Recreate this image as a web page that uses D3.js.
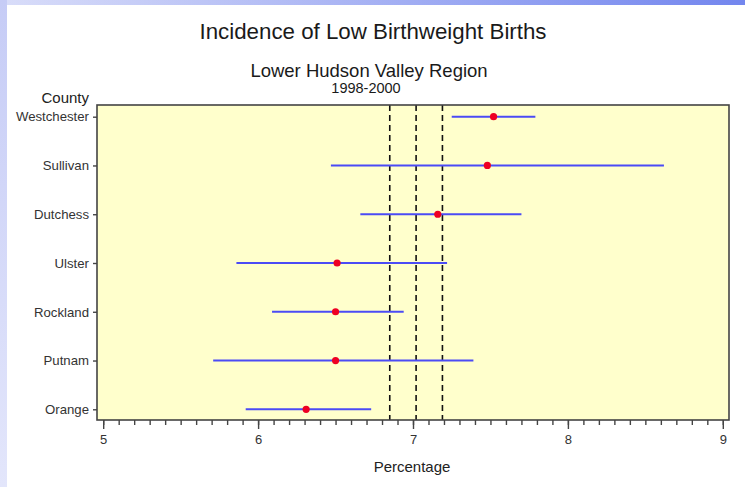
<!DOCTYPE html>
<html>
<head>
<meta charset="utf-8">
<script src="https://cdn.jsdelivr.net/npm/d3@7"></script>
<style>
  body { margin: 0; background: #fff; }
  svg { display: block; font-family: "Liberation Sans", Arial, sans-serif; }
</style>
</head>
<body>
<div id="chart"></div>
<script>
// counties, bottom to top
let counties = ['Orange', 'Putnam', 'Rockland', 'Ulster', 'Dutchess', 'Sullivan', 'Westchester'];
let rates = [6.31, 6.50, 6.50, 6.51, 7.16, 7.48, 7.52];
let lower = [5.92, 5.71, 6.09, 5.86, 6.66, 6.47, 7.25];
let upper = [6.73, 7.39, 6.94, 7.22, 7.70, 8.62, 7.79];
// region rate with its confidence limits
let regionLines = [6.85, 7.02, 7.19];
let majorTicks = [5, 6, 7, 8, 9];

let tempData = [];
for (let i = 0; i < counties.length; i++) {
    tempData.push({ county: counties[i], rate: rates[i], lo: lower[i], hi: upper[i] });
}

let totalWidth = 745;
let totalHeight = 487;
let frame = { left: 97, right: 729, top: 105, bottom: 420 };

let x = d3.scaleLinear().domain([4.96, 9.04]).range([frame.left, frame.right]);
let y = d3.scalePoint().domain(counties).range([409.3, 116.7]);

let svg = d3.select("#chart").append("svg")
    .attr("width", totalWidth)
    .attr("height", totalHeight);

// slide decoration: gradient strips on top and left
let defs = svg.append("defs");
let topGrad = defs.append("linearGradient").attr("id", "topGrad");
topGrad.append("stop").attr("offset", "0%").attr("stop-color", "#d9ddf9");
topGrad.append("stop").attr("offset", "100%").attr("stop-color", "#7386ee");
let leftGrad = defs.append("linearGradient").attr("id", "leftGrad")
    .attr("x1", 0).attr("y1", 0).attr("x2", 0).attr("y2", 1);
leftGrad.append("stop").attr("offset", "0%").attr("stop-color", "#c6ccf6");
leftGrad.append("stop").attr("offset", "100%").attr("stop-color", "#e3e6fb");

svg.append("rect").attr("x", 0).attr("y", 0).attr("width", totalWidth).attr("height", 5)
    .attr("fill", "url(#topGrad)");
svg.append("rect").attr("x", 0).attr("y", 0).attr("width", 7).attr("height", totalHeight)
    .attr("fill", "url(#leftGrad)");

// titles
svg.append("text")
    .attr("x", 373).attr("y", 39)
    .attr("text-anchor", "middle")
    .style("font-size", "22.3px")
    .style("fill", "#1a1a1a")
    .text("Incidence of Low Birthweight Births");
svg.append("text")
    .attr("x", 369).attr("y", 77)
    .attr("text-anchor", "middle")
    .style("font-size", "18.5px")
    .style("fill", "#1a1a1a")
    .text("Lower Hudson Valley Region");
svg.append("text")
    .attr("x", 366).attr("y", 93)
    .attr("text-anchor", "middle")
    .style("font-size", "14.5px")
    .style("fill", "#1a1a1a")
    .text("1998-2000");

// plot area
svg.append("rect")
    .attr("x", frame.left).attr("y", frame.top)
    .attr("width", frame.right - frame.left)
    .attr("height", frame.bottom - frame.top)
    .attr("fill", "#ffffcc");

// region reference lines
svg.selectAll(".ref")
    .data(regionLines)
    .enter().append("line")
    .attr("class", "ref")
    .attr("x1", d => x(d)).attr("x2", d => x(d))
    .attr("y1", frame.top).attr("y2", frame.bottom)
    .attr("stroke", "#111")
    .attr("stroke-width", 1.6)
    .attr("stroke-dasharray", "6,4");

// confidence intervals
svg.selectAll(".ci")
    .data(tempData)
    .enter().append("line")
    .attr("class", "ci")
    .attr("x1", d => x(d.lo)).attr("x2", d => x(d.hi))
    .attr("y1", d => y(d.county)).attr("y2", d => y(d.county))
    .attr("stroke", "#4b4bf5")
    .attr("stroke-width", 2);

// point estimates
svg.selectAll(".dot")
    .data(tempData)
    .enter().append("circle")
    .attr("class", "dot")
    .attr("cx", d => x(d.rate))
    .attr("cy", d => y(d.county))
    .attr("r", 3.6)
    .attr("fill", "#ee0022");

// frame border
svg.append("rect")
    .attr("x", frame.left).attr("y", frame.top)
    .attr("width", frame.right - frame.left)
    .attr("height", frame.bottom - frame.top)
    .attr("fill", "none")
    .attr("stroke", "#444")
    .attr("stroke-width", 1.6);

// x axis, minor then major ticks
let minorAxis = svg.append("g")
    .attr("transform", "translate(0," + frame.bottom + ")")
    .call(d3.axisBottom(x).tickValues(d3.range(50, 91).map(d => d / 10)).tickSize(5).tickFormat(""));
minorAxis.select(".domain").remove();

let xAxis = svg.append("g")
    .attr("transform", "translate(0," + frame.bottom + ")")
    .call(d3.axisBottom(x).tickValues(majorTicks).tickSize(9).tickPadding(6).tickFormat(d3.format("d")));
xAxis.select(".domain").remove();
xAxis.selectAll("text").style("font-size", "13px").style("fill", "#333");

svg.selectAll(".tick line").attr("stroke", "#444").attr("stroke-width", 1.4);

svg.append("text")
    .attr("x", 412).attr("y", 472)
    .attr("text-anchor", "middle")
    .style("font-size", "15px")
    .style("fill", "#222")
    .text("Percentage");

// y axis
let yAxis = svg.append("g")
    .attr("transform", "translate(" + frame.left + ",0)")
    .call(d3.axisLeft(y).tickSize(4).tickPadding(4));
yAxis.select(".domain").remove();
yAxis.selectAll("text").style("font-size", "13.2px").style("fill", "#333");
yAxis.selectAll("line").attr("stroke", "#444").attr("stroke-width", 1.4);

svg.append("text")
    .attr("x", 89).attr("y", 103)
    .attr("text-anchor", "end")
    .style("font-size", "15px")
    .style("fill", "#222")
    .text("County");
</script>
</body>
</html>
